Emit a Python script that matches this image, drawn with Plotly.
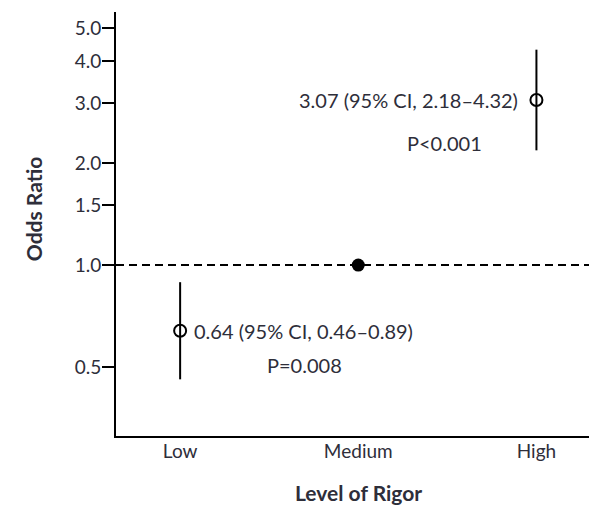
import numpy as np
import plotly.graph_objects as go

categories = ["Low", "Medium", "High"]
odds = [0.64, 1.0, 3.07]
ci_low = [0.46, None, 2.18]
ci_high = [0.89, None, 4.32]
labels = ["0.64 (95% CI, 0.46\u20130.89)", None, "3.07 (95% CI, 2.18\u20134.32)"]
pvals = ["P=0.008", None, "P<0.001"]
yticks = [0.5, 1.0, 1.5, 2.0, 3.0, 4.0, 5.0]
ytick_text = ["0.5", "1.0", "1.5", "2.0", "3.0", "4.0", "5.0"]

FONT = "Lato"
TXT = "#2e2e3a"
FS = 19
AFS = 20
xi = list(range(len(categories)))

fig = go.Figure()

# reference dashed line at OR = 1
fig.add_shape(type="line", xref="paper", yref="y", x0=0, x1=1, y0=1.0, y1=1.0,
              line=dict(color="black", width=2, dash="8px,5px"))

# confidence intervals
for i in xi:
    if ci_low[i] is not None:
        fig.add_trace(go.Scatter(x=[i, i], y=[ci_low[i], ci_high[i]], mode="lines",
                                 line=dict(color="black", width=2), showlegend=False,
                                 hoverinfo="skip"))

# points
open_idx = [i for i in xi if ci_low[i] is not None]
fig.add_trace(go.Scatter(x=open_idx, y=[odds[i] for i in open_idx], mode="markers",
                         marker=dict(symbol="circle-open", size=12, color="black",
                                     line=dict(width=2, color="black")),
                         showlegend=False))
fig.add_trace(go.Scatter(x=[1], y=[odds[1]], mode="markers",
                         marker=dict(symbol="circle", size=13, color="black"),
                         showlegend=False))

# annotations
fig.add_annotation(x=0.067, y=np.log10(odds[0]), text=labels[0], xanchor="left",
                   showarrow=False, font=dict(family=FONT, size=AFS, color=TXT))
fig.add_annotation(x=0.70, y=np.log10(0.507), text=pvals[0], xanchor="center",
                   showarrow=False, font=dict(family=FONT, size=AFS, color=TXT))
fig.add_annotation(x=1.905, y=np.log10(odds[2]), text=labels[2], xanchor="right",
                   showarrow=False, font=dict(family=FONT, size=AFS, color=TXT))
fig.add_annotation(x=1.485, y=np.log10(2.29), text=pvals[2], xanchor="center",
                   showarrow=False, font=dict(family=FONT, size=AFS, color=TXT))

# axis titles
fig.add_annotation(xref="paper", yref="paper", x=-0.1726, y=0.535, xanchor="center",
                   yanchor="middle", text="<b>Odds Ratio</b>",
                   textangle=-90, showarrow=False,
                   font=dict(family=FONT, size=21, color=TXT))
fig.add_annotation(xref="x", yref="paper", x=1, y=-0.134, yanchor="middle",
                   text="<b>Level of Rigor</b>", showarrow=False,
                   font=dict(family=FONT, size=21, color=TXT))

# page has an 8px body margin: size the figure so the plot lands where the reference has it
fig.update_layout(
    width=589, height=507,
    margin=dict(l=108, r=0, t=4, b=79),
    plot_bgcolor="white", paper_bgcolor="white",
    font=dict(family=FONT, size=FS, color=TXT),
    showlegend=False,
)
fig.update_xaxes(range=[-0.36, 2.34], tickvals=xi, ticktext=categories,
                 showgrid=False, zeroline=False, showline=True, linecolor="black",
                 linewidth=2, ticks="", tickfont=dict(family=FONT, size=FS, color=TXT),
                 ticklabelstandoff=-3)
fig.update_yaxes(type="log", range=[np.log10(0.313), np.log10(5.58)],
                 tickvals=yticks, ticktext=ytick_text, showgrid=False, zeroline=False,
                 showline=True, linecolor="black", linewidth=2, ticks="outside",
                 ticklen=12, tickwidth=2, tickcolor="black",
                 tickfont=dict(family=FONT, size=FS, color=TXT),
                 ticklabelstandoff=-3)

fig.write_html("out.html")
